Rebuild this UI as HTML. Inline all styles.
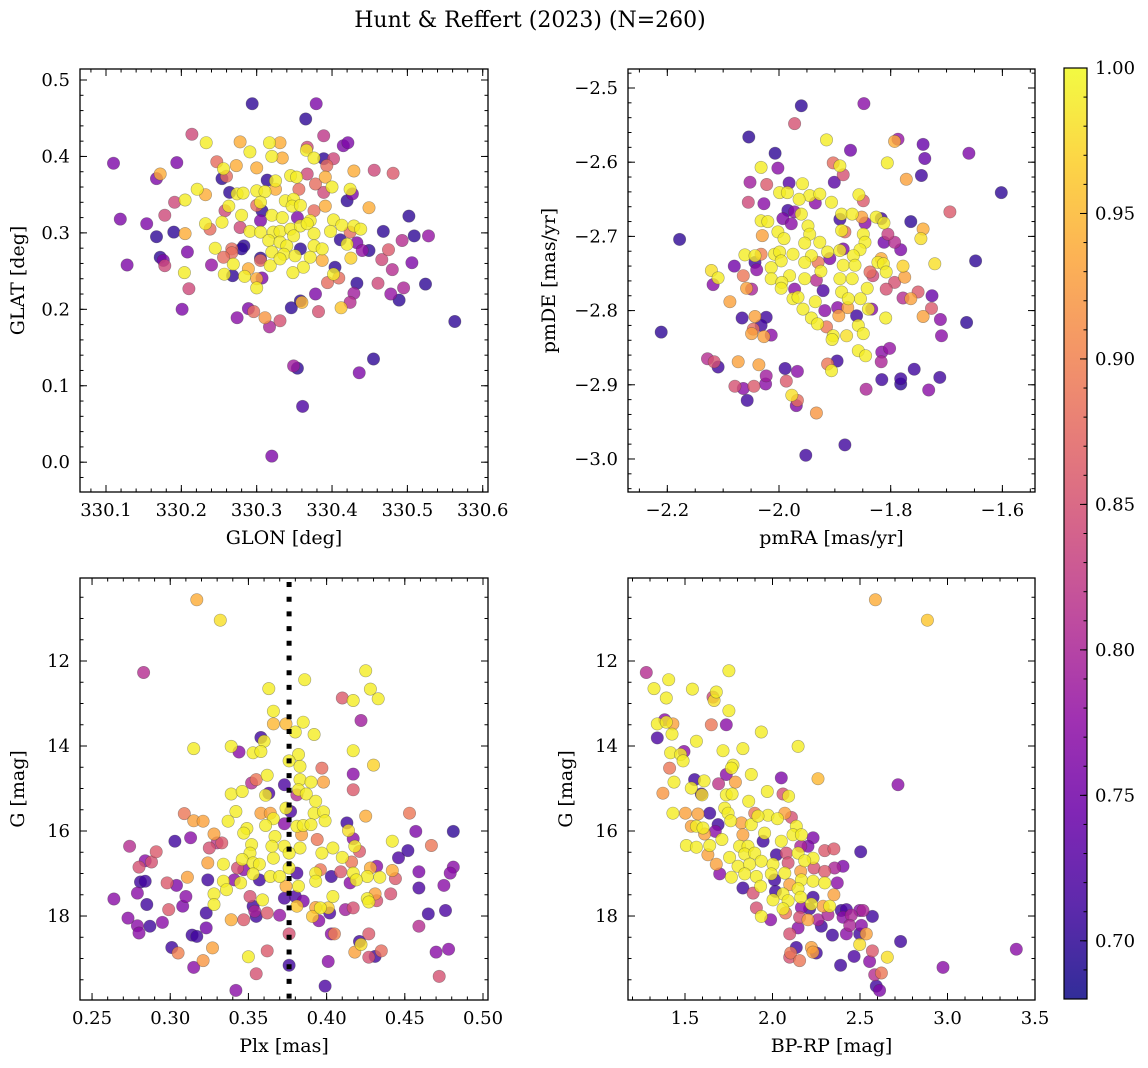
<!DOCTYPE html>
<html><head><meta charset="utf-8">
<style>
html,body{margin:0;padding:0;background:#fff;}
svg{display:block;font-family:"DejaVu Serif","Liberation Serif",serif;}
</style></head>
<body>
<svg id="fig" width="1148" height="1068" viewBox="0 0 1148 1068" xmlns="http://www.w3.org/2000/svg">
<rect width="1148" height="1068" fill="#fff"/>
<text x="530" y="27" font-size="22" text-anchor="middle">Hunt &amp; Reffert (2023) (N=260)</text>
</svg>
<script>
// ---------- Panel 1: GLON vs GLAT ----------
const glon=[330.294,330.379,330.365,330.214,330.389,330.233,330.278,330.317,330.331,330.415,330.421,330.367,330.291,330.366,330.320,330.334,330.376,330.389,330.402,330.110,330.194,330.247,330.273,330.300,330.393,330.429,330.456,330.481,330.172,330.167,330.256,330.254,330.260,330.314,330.325,330.345,330.353,330.367,330.391,330.378,330.400,330.424,330.427,330.389,330.221,330.232,330.205,330.191,330.264,330.274,330.282,330.300,330.311,330.325,330.356,330.420,330.305,330.300,330.338,330.349,330.347,330.358,330.376,330.391,330.449,330.263,330.258,330.280,330.307,330.320,330.334,330.354,330.371,330.402,330.502,330.178,330.119,330.154,330.232,330.254,330.305,330.238,330.278,330.291,330.305,330.322,330.331,330.345,330.358,330.367,330.376,330.349,330.398,330.413,330.429,330.438,330.424,330.468,330.509,330.528,330.167,330.190,330.205,330.493,330.411,330.420,330.433,330.440,330.449,330.475,330.283,330.280,330.267,330.245,330.316,330.331,330.340,330.358,330.376,330.387,330.320,330.336,330.351,330.371,330.387,330.305,330.305,330.267,330.256,330.208,330.172,330.176,330.178,330.128,330.240,330.269,330.318,330.331,330.289,330.362,330.404,330.425,330.466,330.506,330.480,330.204,330.257,330.268,330.284,330.300,330.307,330.348,330.402,330.409,330.394,330.433,330.461,330.524,330.300,330.210,330.378,330.429,330.478,330.495,330.489,330.358,330.360,330.424,330.201,330.289,330.296,330.346,330.382,330.412,330.274,330.311,330.331,330.317,330.563,330.455,330.349,330.354,330.436,330.361,330.320];
const glat=[0.469,0.469,0.449,0.429,0.427,0.418,0.419,0.418,0.418,0.414,0.418,0.412,0.406,0.408,0.400,0.398,0.398,0.397,0.397,0.391,0.392,0.393,0.388,0.385,0.388,0.381,0.382,0.378,0.377,0.371,0.384,0.371,0.374,0.369,0.368,0.375,0.373,0.377,0.373,0.364,0.360,0.357,0.351,0.353,0.357,0.350,0.343,0.340,0.353,0.351,0.352,0.355,0.354,0.357,0.357,0.342,0.340,0.336,0.342,0.344,0.335,0.336,0.329,0.335,0.333,0.335,0.329,0.323,0.329,0.323,0.320,0.320,0.316,0.317,0.322,0.323,0.318,0.312,0.312,0.314,0.316,0.305,0.307,0.302,0.301,0.301,0.302,0.305,0.309,0.312,0.299,0.296,0.302,0.310,0.309,0.305,0.301,0.302,0.296,0.296,0.295,0.301,0.299,0.290,0.291,0.285,0.287,0.277,0.277,0.278,0.283,0.279,0.279,0.280,0.290,0.288,0.283,0.279,0.283,0.279,0.275,0.272,0.270,0.268,0.264,0.267,0.264,0.274,0.268,0.275,0.268,0.264,0.257,0.258,0.258,0.259,0.257,0.266,0.253,0.255,0.255,0.267,0.265,0.261,0.252,0.248,0.246,0.244,0.243,0.240,0.241,0.248,0.246,0.241,0.235,0.234,0.234,0.233,0.228,0.227,0.220,0.221,0.220,0.228,0.212,0.211,0.209,0.209,0.200,0.201,0.197,0.202,0.197,0.202,0.189,0.189,0.185,0.177,0.184,0.135,0.126,0.123,0.117,0.073,0.008];
const prob1=[.70,.76,.70,.84,.82,.99,.94,.99,.94,.76,.76,.84,.99,.99,.99,.94,.99,.70,.84,.76,.76,.88,.94,.94,.88,.94,.84,.86,.94,.76,.99,.70,.88,.70,.99,.99,.99,.84,.94,.88,.99,.99,.76,.84,.99,.94,.99,.84,.70,.99,.99,.99,.99,.94,.88,.70,.99,.88,.99,.99,.99,.99,.88,.94,.94,.99,.84,.99,.70,.99,.99,.76,.99,.99,.70,.84,.76,.76,.99,.99,.76,.88,.84,.99,.99,.99,.99,.99,.99,.99,.99,.99,.99,.99,.99,.99,.88,.70,.70,.78,.70,.70,.94,.81,.70,.99,.76,.78,.70,.86,.70,.70,.88,.99,.99,.99,.99,.70,.99,.99,.99,.99,.99,.99,.94,.70,.88,.88,.88,.76,.70,.76,.84,.76,.78,.99,.99,.99,.94,.99,.70,.97,.84,.76,.81,.99,.99,.70,.99,.94,.76,.99,.99,.88,.88,.70,.84,.70,.99,.84,.76,.79,.78,.80,.70,.70,.95,.81,.76,.76,.88,.70,.85,.96,.77,.92,.85,.80,.70,.70,.79,.70,.76,.72,.76];
const p1xTicks=[330.1,330.2,330.3,330.4,330.5,330.6];
const p1yTicks=[0.0,0.1,0.2,0.3,0.4,0.5];

// ---------- Panel 2: pmRA vs pmDE ----------
const pmra=[-1.960,-1.848,-1.972,-2.054,-1.915,-1.793,-1.787,-1.742,-2.007,-1.872,-1.660,-1.739,-1.806,-1.903,-1.891,-2.032,-2.002,-1.885,-1.772,-1.745,-2.052,-2.022,-1.982,-1.901,-1.958,-1.602,-1.999,-1.985,-1.945,-1.927,-1.857,-1.849,-1.964,-1.935,-1.906,-2.055,-2.027,-1.694,-1.984,-1.993,-1.972,-1.960,-1.888,-1.869,-1.852,-1.826,-1.817,-2.032,-2.020,-1.978,-1.948,-1.891,-1.812,-1.764,-1.846,-1.742,-2.002,-1.888,-1.882,-1.945,-1.849,-1.805,-2.030,-1.991,-1.746,-1.846,-1.812,-1.793,-1.954,-1.927,-1.782,-2.178,-2.061,-2.043,-2.032,-2.008,-1.999,-1.975,-1.942,-1.913,-1.891,-1.885,-1.909,-1.855,-1.867,-1.817,-1.648,-1.721,-2.043,-1.996,-1.954,-1.930,-1.885,-1.864,-1.823,-1.813,-1.778,-2.080,-2.014,-2.040,-2.121,-2.109,-2.118,-2.064,-1.981,-1.954,-1.925,-1.933,-1.891,-1.869,-1.837,-1.832,-1.808,-1.793,-1.775,-2.058,-2.049,-2.014,-1.995,-1.996,-1.972,-1.921,-1.888,-1.842,-1.808,-1.751,-1.778,-1.764,-1.726,-2.088,-1.975,-1.966,-1.935,-1.876,-1.854,-1.727,-1.957,-1.918,-1.895,-1.877,-1.840,-1.834,-2.066,-2.043,-2.023,-1.942,-1.893,-1.861,-1.809,-1.742,-1.711,-1.664,-2.211,-2.032,-2.046,-2.049,-2.027,-2.014,-1.931,-1.915,-1.903,-1.905,-1.879,-1.858,-1.849,-1.709,-1.802,-1.816,-1.858,-1.845,-1.817,-2.128,-2.116,-2.109,-2.073,-2.036,-1.989,-1.967,-1.913,-1.896,-1.906,-1.758,-2.023,-1.987,-1.816,-1.782,-1.782,-1.712,-2.079,-2.064,-2.045,-2.024,-1.844,-1.732,-2.057,-1.977,-1.967,-1.969,-1.933,-1.882,-1.952];
const pmde=[-2.524,-2.521,-2.548,-2.566,-2.570,-2.572,-2.569,-2.576,-2.588,-2.584,-2.588,-2.595,-2.601,-2.601,-2.605,-2.607,-2.608,-2.617,-2.623,-2.618,-2.627,-2.630,-2.628,-2.627,-2.629,-2.641,-2.641,-2.641,-2.645,-2.643,-2.644,-2.652,-2.650,-2.655,-2.654,-2.654,-2.656,-2.667,-2.665,-2.676,-2.667,-2.670,-2.670,-2.670,-2.674,-2.674,-2.676,-2.679,-2.680,-2.683,-2.686,-2.677,-2.682,-2.680,-2.682,-2.690,-2.694,-2.692,-2.694,-2.697,-2.697,-2.697,-2.699,-2.703,-2.703,-2.708,-2.708,-2.708,-2.709,-2.708,-2.718,-2.704,-2.725,-2.726,-2.724,-2.724,-2.721,-2.724,-2.726,-2.721,-2.719,-2.717,-2.730,-2.718,-2.726,-2.730,-2.733,-2.737,-2.735,-2.733,-2.735,-2.735,-2.739,-2.739,-2.735,-2.737,-2.740,-2.740,-2.742,-2.745,-2.746,-2.756,-2.765,-2.753,-2.753,-2.757,-2.747,-2.759,-2.757,-2.757,-2.748,-2.753,-2.748,-2.762,-2.755,-2.770,-2.771,-2.757,-2.762,-2.770,-2.771,-2.773,-2.775,-2.770,-2.771,-2.775,-2.783,-2.784,-2.780,-2.788,-2.784,-2.782,-2.788,-2.784,-2.784,-2.797,-2.798,-2.800,-2.796,-2.796,-2.798,-2.798,-2.810,-2.808,-2.809,-2.810,-2.807,-2.807,-2.810,-2.808,-2.812,-2.816,-2.829,-2.820,-2.825,-2.831,-2.835,-2.833,-2.818,-2.822,-2.834,-2.839,-2.834,-2.820,-2.831,-2.834,-2.851,-2.856,-2.854,-2.861,-2.869,-2.865,-2.869,-2.876,-2.869,-2.873,-2.878,-2.882,-2.872,-2.868,-2.881,-2.879,-2.888,-2.895,-2.893,-2.892,-2.899,-2.890,-2.902,-2.905,-2.902,-2.899,-2.906,-2.907,-2.921,-2.914,-2.921,-2.928,-2.938,-2.981,-2.995];
const prob2=[.70,.77,.85,.70,.99,.94,.78,.74,.70,.75,.76,.74,.99,.88,.99,.99,.77,.85,.93,.71,.79,.86,.73,.73,.99,.70,.99,.99,.99,.99,.99,.86,.99,.77,.99,.84,.77,.86,.71,.76,.77,.99,.99,.99,.93,.99,.71,.99,.99,.77,.99,.71,.99,.70,.77,.94,.99,.99,.88,.99,.99,.83,.93,.99,.98,.99,.75,.81,.99,.99,.76,.70,.99,.99,.90,.99,.99,.99,.99,.99,.99,.76,.76,.99,.99,.94,.70,.98,.71,.99,.99,.89,.99,.99,.99,.99,.97,.75,.99,.77,.98,.99,.77,.89,.99,.99,.99,.81,.99,.99,.88,.84,.99,.85,.93,.93,.80,.99,.99,.99,.77,.72,.99,.99,.85,.86,.81,.93,.74,.93,.99,.99,.99,.99,.99,.86,.99,.77,.77,.93,.99,.77,.71,.93,.71,.99,.93,.71,.99,.93,.77,.70,.70,.71,.88,.93,.93,.77,.99,.89,.99,.99,.98,.99,.99,.77,.78,.77,.99,.99,.80,.81,.85,.71,.93,.93,.71,.77,.89,.71,.99,.71,.79,.86,.71,.71,.70,.71,.85,.77,.86,.77,.80,.77,.71,.98,.88,.76,.92,.71,.71];
const p2xTicks=[-2.2,-2.0,-1.8,-1.6];
const p2yTicks=[-3.0,-2.9,-2.8,-2.7,-2.6,-2.5];

// ---------- Panel 3: Plx vs G ----------
const plx=[.317,.332,.283,.425,.386,.428,.363,.410,.417,.433,.366,.422,.366,.374,.385,.380,.392,.358,.360,.315,.339,.344,.353,.358,.417,.382,.376,.383,.430,.397,.417,.362,.355,.352,.383,.390,.398,.373,.417,.339,.346,.363,.361,.382,.387,.393,.381,.374,.377,.309,.342,.358,.364,.392,.398,.453,.425,.315,.321,.337,.366,.373,.399,.361,.381,.385,.390,.413,.414,.457,.481,.349,.347,.384,.367,.313,.303,.328,.330,.333,.394,.417,.442,.274,.325,.352,.365,.373,.383,.404,.418,.467,.291,.351,.376,.397,.421,.452,.446,.284,.288,.346,.366,.410,.280,.324,.334,.353,.357,.416,.343,.347,.376,.396,.432,.428,.442,.481,.479,.459,.311,.324,.353,.364,.370,.381,.393,.403,.409,.417,.426,.434,.444,.357,.281,.284,.298,.304,.334,.341,.345,.374,.382,.393,.415,.419,.475,.459,.336,.279,.310,.328,.351,.373,.380,.404,.431,.441,.264,.359,.385,.426,.427,.432,.285,.308,.328,.353,.381,.393,.401,.396,.299,.354,.362,.370,.402,.412,.417,.323,.465,.476,.273,.295,.339,.347,.355,.391,.395,.279,.287,.459,.280,.323,.314,.317,.376,.403,.405,.427,.421,.422,.301,.305,.327,.362,.418,.435,.470,.478,.427,.431,.321,.350,.401,.376,.315,.355,.472,.342,.399];
const gmag3=[10.56,11.04,12.27,12.23,12.44,12.66,12.65,12.87,12.93,12.89,13.18,13.40,13.48,13.48,13.44,13.67,13.73,13.80,13.89,14.06,14.01,14.14,14.16,14.13,14.11,14.20,14.35,14.48,14.45,14.52,14.66,14.69,14.79,14.87,14.79,14.85,14.85,14.91,15.03,15.13,15.07,15.11,15.16,15.03,15.13,15.30,15.15,15.46,15.54,15.59,15.54,15.58,15.58,15.58,15.55,15.58,15.65,15.76,15.77,15.77,15.71,15.83,15.76,15.87,15.89,15.87,15.85,15.81,15.99,16.01,16.01,15.94,16.05,16.09,16.13,16.16,16.24,16.07,16.28,16.28,16.20,16.18,16.24,16.36,16.40,16.32,16.36,16.36,16.40,16.40,16.36,16.34,16.49,16.52,16.52,16.52,16.48,16.46,16.63,16.70,16.73,16.67,16.64,16.62,16.85,16.75,16.78,16.75,16.78,16.73,16.87,16.91,16.87,16.91,16.83,16.87,16.93,16.85,16.99,16.96,17.09,17.15,17.01,17.07,17.07,16.99,16.99,17.07,16.96,16.99,17.07,17.09,17.12,17.15,17.20,17.18,17.22,17.28,17.18,17.15,17.22,17.30,17.30,17.18,17.22,17.15,17.28,17.34,17.38,17.46,17.54,17.48,17.54,17.58,17.54,17.54,17.48,17.48,17.60,17.62,17.65,17.59,17.67,17.64,17.73,17.77,17.73,17.77,17.77,17.80,17.81,17.81,17.85,17.89,17.93,17.98,17.93,17.85,17.81,17.93,17.95,17.87,18.05,18.15,18.09,18.09,18.01,18.01,18.11,18.23,18.24,18.24,18.40,18.28,18.45,18.48,18.42,18.42,18.42,18.42,18.60,18.67,18.74,18.87,18.75,18.82,18.85,18.82,18.85,18.78,18.97,18.95,19.05,18.96,19.07,19.16,19.21,19.36,19.42,19.75,19.65];
const prob3=[.94,.98,.81,.99,.99,.99,.99,.86,.99,.99,.99,.79,.95,.95,.99,.99,.99,.71,.99,.99,.99,.77,.99,.99,.99,.99,.99,.99,.97,.88,.77,.99,.89,.81,.99,.99,.93,.72,.86,.99,.99,.72,.99,.99,.99,.99,.81,.99,.72,.89,.99,.93,.93,.99,.99,.89,.94,.93,.93,.99,.99,.77,.99,.99,.99,.99,.99,.71,.98,.76,.70,.99,.99,.93,.99,.77,.71,.93,.82,.86,.89,.77,.99,.81,.85,.99,.99,.99,.99,.99,.99,.89,.86,.99,.99,.99,.86,.71,.72,.77,.85,.99,.99,.99,.85,.93,.99,.99,.99,.89,.85,.77,.99,.89,.77,.94,.94,.77,.77,.76,.93,.71,.99,.99,.99,.72,.99,.71,.86,.99,.99,.99,.86,.71,.71,.71,.86,.76,.99,.77,.99,.94,.99,.99,.77,.99,.77,.72,.99,.77,.77,.99,.85,.72,.72,.99,.93,.85,.77,.99,.76,.99,.99,.85,.71,.76,.99,.71,.96,.93,.97,.99,.86,.80,.86,.78,.72,.79,.85,.71,.71,.72,.77,.77,.94,.86,.71,.96,.77,.77,.71,.81,.77,.75,.71,.71,.85,.77,.90,.86,.71,.98,.71,.90,.93,.86,.93,.88,.77,.77,.85,.71,.92,.99,.77,.71,.77,.85,.85,.77,.72];
const p3xTicks=[0.25,0.30,0.35,0.40,0.45,0.50];
const gTicks=[12,14,16,18];
const plxRef=[0.376];

// ---------- Panel 4: BP-RP vs G ----------
const bprp=[2.588,2.885,1.279,1.751,1.407,1.323,1.542,1.679,1.660,1.666,1.393,1.751,1.384,1.342,1.393,1.431,1.650,1.736,1.936,1.426,1.342,1.565,2.146,1.831,1.717,1.494,1.418,1.475,1.489,1.774,1.765,1.412,1.736,1.879,2.050,2.260,1.555,1.609,1.437,1.788,1.692,2.717,1.536,1.970,1.374,1.593,1.597,1.736,1.769,2.060,2.092,1.864,1.727,1.431,1.502,1.574,1.641,1.746,1.898,1.974,2.028,2.070,2.108,1.761,1.822,1.879,1.917,2.136,1.536,1.565,1.603,1.689,1.673,1.612,1.831,1.955,2.117,2.165,2.232,1.711,1.946,2.050,1.508,1.565,1.641,1.812,1.860,2.161,2.203,2.504,2.298,2.351,1.631,1.755,1.841,1.898,2.022,2.079,2.146,2.232,1.679,1.803,1.869,1.936,2.003,2.089,2.184,2.237,2.298,2.355,2.403,1.698,1.765,1.841,1.908,1.993,2.070,2.161,2.165,2.012,2.232,2.298,2.370,1.831,1.932,2.098,2.146,1.889,2.017,2.060,2.161,2.232,2.351,2.003,2.089,2.222,2.289,2.327,1.908,2.060,2.165,2.212,2.393,2.422,2.498,2.517,2.075,1.936,1.989,2.155,2.203,2.260,2.317,2.403,2.450,2.571,2.146,2.279,2.441,2.508,2.098,2.342,2.422,2.498,2.536,2.732,2.498,2.136,2.104,2.222,2.231,2.250,2.098,2.155,2.571,2.466,2.656,3.393,2.555,2.389,2.974,2.584,2.622,2.593,2.612];
const gmag4=[10.56,11.04,12.27,12.23,12.44,12.65,12.66,12.73,12.85,12.93,12.87,13.17,13.38,13.48,13.44,13.48,13.50,13.50,13.67,13.72,13.81,13.89,14.01,14.06,14.11,14.13,14.16,14.20,14.35,14.45,14.52,14.52,14.67,14.67,14.75,14.77,14.79,14.82,14.85,14.85,14.89,14.91,14.99,15.07,15.11,15.13,15.15,15.15,15.13,15.13,15.18,15.30,15.46,15.58,15.58,15.60,15.58,15.58,15.58,15.63,15.71,15.58,15.68,15.76,15.81,15.85,15.65,15.89,15.89,15.89,15.93,15.85,16.01,16.07,16.09,16.05,16.09,16.09,16.16,16.20,16.24,16.24,16.34,16.38,16.34,16.36,16.36,16.36,16.36,16.49,16.46,16.42,16.56,16.62,16.54,16.52,16.56,16.52,16.52,16.64,16.78,16.83,16.78,16.71,16.78,16.75,16.70,16.87,16.95,16.87,16.83,17.01,17.09,17.01,17.07,17.01,16.99,16.95,17.15,17.15,17.18,17.22,17.22,17.34,17.30,17.26,17.36,17.46,17.42,17.48,17.56,17.56,17.50,17.62,17.64,17.72,17.77,17.77,17.81,17.83,17.80,17.83,17.87,17.85,17.87,17.87,17.93,18.01,18.09,18.03,18.09,18.09,17.97,18.03,17.98,18.01,18.28,18.24,18.22,18.22,18.42,18.45,18.42,18.42,18.42,18.60,18.67,18.74,18.87,18.74,18.85,18.87,18.97,19.05,18.82,18.95,18.97,18.78,19.07,19.16,19.21,19.38,19.34,19.65,19.75];
const prob4=[.94,.96,.81,.99,.99,.99,.99,.99,.84,.98,.99,.99,.77,.99,.99,.93,.89,.77,.99,.99,.72,.99,.99,.99,.99,.77,.99,.99,.99,.99,.99,.89,.77,.99,.76,.95,.71,.99,.99,.93,.82,.77,.99,.99,.92,.71,.98,.99,.99,.85,.99,.99,.99,.99,.93,.93,.71,.99,.89,.99,.99,.93,.85,.99,.93,.99,.99,.99,.93,.99,.99,.71,.77,.93,.93,.99,.99,.99,.76,.99,.71,.99,.99,.99,.99,.99,.99,.80,.76,.71,.86,.86,.93,.99,.99,.99,.71,.85,.99,.99,.93,.99,.99,.99,.99,.85,.99,.85,.86,.80,.76,.77,.99,.99,.99,.99,.99,.93,.99,.71,.99,.99,.77,.71,.99,.93,.99,.85,.71,.99,.99,.71,.93,.99,.99,.99,.93,.99,.85,.99,.77,.71,.71,.72,.77,.80,.89,.99,.77,.85,.93,.80,.80,.77,.80,.71,.77,.71,.80,.77,.85,.71,.77,.71,.93,.71,.98,.71,.89,.93,.93,.71,.85,.89,.86,.72,.98,.77,.77,.71,.77,.81,.89,.71,.76];
const p4xTicks=[1.5,2.0,2.5,3.0,3.5];

// ---------- Colorbar ----------
const cbTicks=[0.70,0.75,0.80,0.85,0.90,0.95,1.00];
const vmin=0.68, vmax=1.0;

const NS='http://www.w3.org/2000/svg';
const svg=document.getElementById('fig');
function el(tag,attrs,parent){const e=document.createElementNS(NS,tag);for(const k in attrs)e.setAttribute(k,attrs[k]);(parent||svg).appendChild(e);return e;}

const plasma=[[13,8,135],[65,4,157],[106,0,168],[143,13,164],[177,42,144],[204,71,120],[225,100,98],[242,132,75],[252,166,54],[252,206,37],[240,249,33]];
function cmap(v){let t=(v-vmin)/(vmax-vmin);t=Math.max(0,Math.min(1,t));const f=t*10,i=Math.min(9,Math.floor(f)),r=f-i;const a=plasma[i],b=plasma[i+1];return 'rgb('+[0,1,2].map(k=>Math.round(a[k]+(b[k]-a[k])*r)).join(',')+')';}
function lin(d0,d1,r0,r1){return v=>r0+(v-d0)/(d1-d0)*(r1-r0);}
function range(a,b,s){const o=[];for(let v=a;v<=b+s*1e-6;v+=s)o.push(+v.toFixed(6));return o;}
const fmtMinus=s=>s.replace('-','\u2212');

function panel(cfg){
  const g=el('g',{});
  
  
  const {x0,x1,y0,y1}=cfg.box;
  const X=lin(cfg.xd[0],cfg.xd[1],x0,x1), Y=lin(cfg.yd[0],cfg.yd[1],y1,y0);
  const pts=g.appendChild(document.createElementNS(NS,'g'));
  
  
  const idx=cfg.xs.map((_,i)=>i).sort((a,b)=>cfg.cs[a]-cfg.cs[b]);
  idx.forEach(i=>{
    const c=el('circle',{cx:X(cfg.xs[i]).toFixed(1),cy:Y(cfg.ys[i]).toFixed(1),r:6.2,fill:cmap(cfg.cs[i]),'fill-opacity':0.8,stroke:'rgba(60,60,60,0.45)','stroke-width':0.6},pts);
    
    
  });
  if(cfg.vline){cfg.vline.forEach(v=>{const l=el('line',{x1:X(v),x2:X(v),y1:y0+4,y2:y1,stroke:'#000','stroke-width':5,'stroke-dasharray':'5,9.7'},g);
    
    });}
  const fr=el('rect',{x:x0,y:y0,width:x1-x0,height:y1-y0,fill:'none',stroke:'#000','stroke-width':1.3},g);
  
  
  const tk=el('g',{stroke:'#000','stroke-width':1},g);
  
  
  const inX=v=>X(v)>=x0-0.5&&X(v)<=x1+0.5, inY=v=>Y(v)>=y0-0.5&&Y(v)<=y1+0.5;
  range(cfg.xminor[0],cfg.xminor[1],cfg.xminor[2]).filter(inX).forEach(v=>{const x=X(v);el('line',{x1:x,x2:x,y1:y1,y2:y1-3.5},tk);el('line',{x1:x,x2:x,y1:y0,y2:y0+3.5},tk);});
  range(cfg.yminor[0],cfg.yminor[1],cfg.yminor[2]).filter(inY).forEach(v=>{const y=Y(v);el('line',{x1:x0,x2:x0+3.5,y1:y,y2:y},tk);el('line',{x1:x1,x2:x1-3.5,y1:y,y2:y},tk);});
  cfg.xt.filter(inX).forEach(v=>{const x=X(v);el('line',{x1:x,x2:x,y1:y1,y2:y1-7},tk);el('line',{x1:x,x2:x,y1:y0,y2:y0+7},tk);
    const t=el('text',{x:x,y:y1+24,'font-size':18,'text-anchor':'middle'},g);t.textContent=fmtMinus(v.toFixed(cfg.xdec));
    
    });
  cfg.yt.filter(inY).forEach(v=>{const y=Y(v);el('line',{x1:x0,x2:x0+7,y1:y,y2:y},tk);el('line',{x1:x1,x2:x1-7,y1:y,y2:y},tk);
    const t=el('text',{x:x0-10,y:y+6,'font-size':18,'text-anchor':'end'},g);t.textContent=fmtMinus(v.toFixed(cfg.ydec));
    
    });
  const xl=el('text',{x:(x0+x1)/2,y:y1+52,'font-size':19,'text-anchor':'middle'},g);xl.textContent=cfg.xlabel;
  
  
  const yl=el('text',{x:0,y:0,'font-size':19,'text-anchor':'middle',transform:`translate(${cfg.ylx},${(y0+y1)/2}) rotate(-90)`},g);yl.textContent=cfg.ylabel;
  
  
}

panel({name:'glon-glat-panel',box:{x0:80,x1:488,y0:69,y1:492},xd:[330.0655,330.607],yd:[-0.039,0.5144],xs:glon,ys:glat,cs:prob1,xt:p1xTicks,yt:p1yTicks,xminor:[330.06,330.62,0.02],yminor:[-0.04,0.52,0.02],xdec:1,ydec:1,xlabel:'GLON [deg]',ylabel:'GLAT [deg]',ylx:24});
panel({name:'pmra-pmde-panel',box:{x0:628,x1:1035,y0:69,y1:492},xd:[-2.2704,-1.5416],yd:[-3.0445,-2.4744],xs:pmra,ys:pmde,cs:prob2,xt:p2xTicks,yt:p2yTicks,xminor:[-2.3,-1.5,0.05],yminor:[-3.06,-2.46,0.02],xdec:1,ydec:1,xlabel:'pmRA [mas/yr]',ylabel:'pmDE [mas/yr]',ylx:555});
panel({name:'plx-g-panel',box:{x0:80,x1:488,y0:578,y1:1000},xd:[0.2423,0.5032],yd:[19.976,10.047],xs:plx,ys:gmag3,cs:prob3,xt:p3xTicks,yt:gTicks,xminor:[0.24,0.51,0.01],yminor:[10,20,0.5],xdec:2,ydec:0,xlabel:'Plx [mas]',ylabel:'G [mag]',ylx:24,vline:plxRef});
panel({name:'bprp-g-panel',box:{x0:628,x1:1035,y0:578,y1:1000},xd:[1.1743,3.4999],yd:[19.976,10.047],xs:bprp,ys:gmag4,cs:prob4,xt:p4xTicks,yt:gTicks,xminor:[1.2,3.5,0.1],yminor:[10,20,0.5],xdec:1,ydec:0,xlabel:'BP-RP [mag]',ylabel:'G [mag]',ylx:572});

(function(){
  const g=el('g',{});
  
  
  const defs=el('defs',{},g);
  const lg=el('linearGradient',{id:'cbg',x1:0,y1:1,x2:0,y2:0},defs);
  for(let i=0;i<=20;i++){el('stop',{offset:(i/20),'stop-color':cmap(vmin+(vmax-vmin)*i/20),'stop-opacity':0.85},lg);}
  const cx0=1064,cx1=1087,cy0=68,cy1=999;
  const Y=lin(vmin,vmax,cy1,cy0);
  const r=el('rect',{x:cx0,y:cy0,width:cx1-cx0,height:cy1-cy0,fill:'url(#cbg)',stroke:'#000','stroke-width':1.2},g);
  
  
  range(0.68,1.0,0.01).forEach(v=>{const y=Y(v);el('line',{x1:cx1,x2:cx1-3.5,y1:y,y2:y,stroke:'#000','stroke-width':1},g);});
  cbTicks.forEach(v=>{const y=Y(v);el('line',{x1:cx1,x2:cx1-7,y1:y,y2:y,stroke:'#000','stroke-width':1},g);
    const t=el('text',{x:cx1+8,y:y+6,'font-size':18},g);t.textContent=v.toFixed(2);
    
    });
})();
</script>
</body></html>
